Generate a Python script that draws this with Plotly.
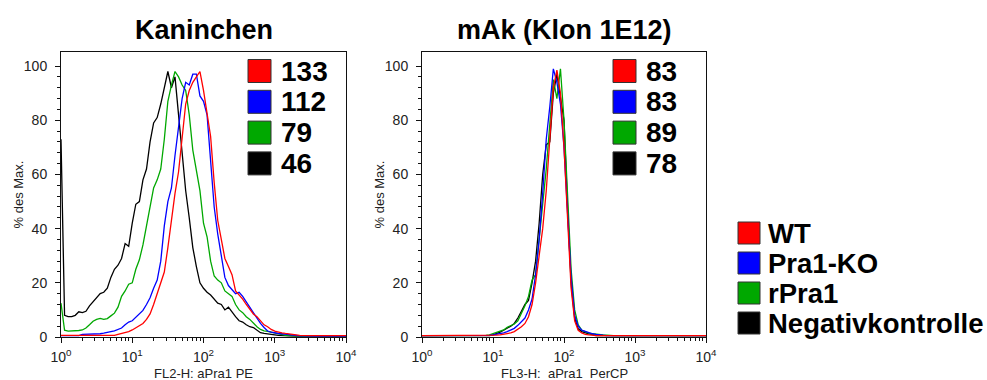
import numpy as np
import plotly.graph_objects as go

W, H = 987, 380

# channel positions: log10 intensity in 0.05-decade steps (10^0 ... 10^4)
log_pos = np.round(np.arange(0, 4.0001, 0.05), 2)
channels = 10 ** log_pos

groups = ["WT", "Pra1-KO", "rPra1", "Negativkontrolle"]
colors = ["#ff0000", "#0000ff", "#00a800", "#000000"]

# ---- Kaninchen (FL2-H: aPra1 PE), % of max per channel ----
rabbit_wt = (
    [0.6] * 16 + [1.0, 1.3, 1.6, 2.0]
    + [2.6, 3.3, 4.3, 5, 6.5, 8.5, 12, 16, 20, 24, 33, 44, 53, 61, 73, 86, 91, 94, 96, 98]
    + [91, 82, 74, 57, 43, 36, 29, 26, 23, 17, 15.5, 14, 12, 10, 8.5, 7.5, 6, 4.5, 3.8, 2.8]
    + [2.2, 1.8, 1.5, 1.3, 1.2, 1.0, 0.8, 0.6] + [0.5] * 12
    + [0.5]
)
rabbit_ko = (
    [0.5] * 6 + [1.0, 1.0, 1.0, 1.0, 1.1, 1.2, 1.4, 1.6, 2.0, 2.3, 2.8, 3.3, 4.5, 5.5]
    + [6, 7.2, 8.5, 9.8, 12, 14.5, 18, 21, 28, 41, 50, 55, 67, 78, 88, 94, 93, 97, 97, 89]
    + [87, 82, 65, 48, 38, 30, 22, 19, 17.5, 16, 16.5, 15, 13, 11, 9, 7, 5, 3.5, 2.2, 1.8]
    + [1.5, 1.3, 1.2, 1.0, 0.8, 0.6, 0.5, 0.4, 0.4] + [0.3] * 11
    + [0.3]
)
rabbit_rpra1 = (
    [12.5, 2.5, 2.2, 2.2, 2.3, 2.4, 2.6, 3.3, 4.5, 5.8, 6.5, 6.9, 6.5, 6.8, 7.8, 8.8, 11, 15, 17, 19.5]
    + [20, 25, 28.5, 34, 41, 48, 55, 58, 62, 73, 87, 93, 98, 96, 93, 91, 82, 69, 61, 54]
    + [42, 37, 28, 22.5, 21, 20, 17, 16, 15, 12, 10, 9, 7.5, 6.5, 5, 3.8, 2.8, 2.3, 2.1, 1.8]
    + [1.3, 1.0, 0.8, 0.6, 0.5, 0.4, 0.4] + [0.3] * 13
    + [0.3]
)
rabbit_neg = (
    [73, 8, 7.5, 7.5, 8, 9.3, 9, 9.5, 11.5, 13, 14.5, 16, 16.5, 18, 22, 25, 26.5, 29, 34.5, 33.5]
    + [42, 49, 50, 58, 62, 72, 79, 81, 86, 92, 98, 92, 96, 82, 68, 54, 44, 33, 26, 20]
    + [18, 16.5, 15.5, 14, 12.5, 12, 10, 11, 9, 7.5, 6, 5.5, 4.5, 3.8, 3.5, 2.5, 1.6, 1.3, 1.2, 1.0]
    + [0.8, 0.6, 0.5, 0.4, 0.4] + [0.3] * 15
    + [0.3]
)

# ---- mAk Klon 1E12 (FL3-H: aPra1 PerCP), % of max per channel ----
mab_wt = (
    [0.5] * 20
    + [0.6, 0.7, 0.8, 1.0, 1.2, 1.5, 2.0, 2.8, 3.8, 5, 7.5, 12, 20, 30, 40, 54, 75, 92, 98.5, 90]
    + [70, 42, 18, 6, 2.5, 1.5, 1.0, 0.8, 0.6] + [0.5] * 11
    + [0.5] * 20
    + [0.5]
)
mab_ko = (
    [0.5] * 19 + [0.6]
    + [0.8, 1.0, 1.2, 1.5, 2.0, 2.5, 3.2, 4.3, 5.5, 7, 10, 14, 23, 36, 53, 73, 85, 99, 94, 86]
    + [70, 46, 22, 8, 4, 2.5, 2, 1.5, 1.2, 1.0, 0.8, 0.7] + [0.5] * 8
    + [0.5] * 20
    + [0.5]
)
mab_rpra1 = (
    [0.5] * 18 + [0.6, 0.8]
    + [1.3, 1.6, 2.0, 2.6, 3.6, 4.2, 4.8, 6, 8.5, 11.5, 15, 21, 23, 35, 49, 62, 80, 95, 88, 99]
    + [80, 52, 25, 10, 4.5, 2.5, 1.8, 1.4, 1.2, 1.0, 0.9, 0.8, 0.7] + [0.5] * 7
    + [0.5] * 20
    + [0.5]
)
mab_neg = (
    [0.5] * 20
    + [0.8, 1.2, 1.8, 2.5, 3.2, 4, 5, 7, 9.5, 12, 13.5, 20, 28, 42, 60, 71, 72, 90, 97, 88]
    + [80, 48, 20, 7, 3, 2, 1.5, 1.2, 1.0] + [0.5] * 11
    + [0.5] * 20
    + [0.5]
)

# mean fluorescence intensity per group, shown next to each panel
rabbit_mfi = [133, 112, 79, 46]
mab_mfi = [83, 83, 89, 78]

panel_titles = ["Kaninchen", "mAk (Klon 1E12)"]
x_titles = ["FL2-H: aPra1 PE", "FL3-H:\u00a0 aPra1\u00a0 PerCP"]
y_title = "% des Max."

x_tickvals = [1, 10, 100, 1000, 10000]
x_ticktext = ["10<sup>0</sup>", "10<sup>1</sup>", "10<sup>2</sup>", "10<sup>3</sup>", "10<sup>4</sup>"]
x_minor = [m * 10 ** d for d in range(4) for m in range(2, 10)]
y_tickvals = [0, 20, 40, 60, 80, 100]
y_minor = [v for v in range(4, 101, 4) if v % 20 != 0]

BOLD = "Liberation Sans, Arial, sans-serif"
PLAIN = "Liberation Sans, Arial, sans-serif"


def px(x):
    return x / W


def py(y):
    return 1 - y / H


# plot areas in pixels: (left, right), (top, bottom)
panels = [((61, 346), (52, 337)), ((422, 706), (52, 337))]

fig = go.Figure()

series_sets = [
    [rabbit_wt, rabbit_ko, rabbit_rpra1, rabbit_neg],
    [mab_wt, mab_ko, mab_rpra1, mab_neg],
]

# draw order: control first, WT on top
for p, sets in enumerate(series_sets):
    xa = "x" if p == 0 else "x2"
    ya = "y" if p == 0 else "y2"
    for i in [3, 2, 1, 0]:
        fig.add_trace(go.Scatter(
            x=channels, y=sets[i], mode="lines", name=groups[i],
            line=dict(color=colors[i], width=1.3),
            xaxis=xa, yaxis=ya, showlegend=False,
        ))

axis_common = dict(
    showline=True, linecolor="#111", linewidth=1, mirror=True,
    ticks="outside", tickcolor="#111", ticklen=5, tickwidth=1,
    showgrid=False, zeroline=False, automargin=False,
    tickfont=dict(family=PLAIN, size=14, color="#222"),
)

layout = dict(
    template="none",
    width=W, height=H, margin=dict(l=0, r=0, t=0, b=0, pad=0, autoexpand=False),
    paper_bgcolor="white", plot_bgcolor="white", showlegend=False,
)

for p, ((xl, xr), (yt, yb)) in enumerate(panels):
    sfx = "" if p == 0 else "2"
    layout["xaxis" + sfx] = dict(
        axis_common, type="log", range=[0, 4],
        domain=[px(xl), px(xr)], anchor="y" + sfx,
        tickvals=x_tickvals, ticktext=x_ticktext, ticklabelstandoff=2,
        minor=dict(tickvals=x_minor, ticks="outside", ticklen=3, tickcolor="#111"),
    )
    layout["yaxis" + sfx] = dict(
        axis_common, range=[0, 105.2],
        domain=[py(yb), py(yt)], anchor="x" + sfx,
        tickvals=y_tickvals, ticklabelstandoff=5,
        minor=dict(tickvals=y_minor, ticks="outside", ticklen=3, tickcolor="#111"),
    )

fig.update_layout(**layout)

annotations = []
shapes = []

# panel titles and axis titles
for p, ((xl, xr), (yt, yb)) in enumerate(panels):
    cx = (xl + xr) / 2
    annotations.append(dict(
        x=px(cx), y=py(30), xref="paper", yref="paper", showarrow=False,
        text="<b>%s</b>" % panel_titles[p], xanchor="center", yanchor="middle",
        font=dict(family=BOLD, size=27, color="black"),
    ))
    annotations.append(dict(
        x=px(cx), y=py(373), xref="paper", yref="paper", showarrow=False,
        text=x_titles[p], xanchor="center", yanchor="middle",
        font=dict(family=PLAIN, size=13, color="#222"),
    ))
    annotations.append(dict(
        x=px(xl - 43), y=py((yt + yb) / 2), xref="paper", yref="paper", showarrow=False,
        text=y_title, textangle=-90, xanchor="center", yanchor="middle",
        font=dict(family=PLAIN, size=13, color="#222"),
    ))


def swatch(x0, y0, color, size=23):
    shapes.append(dict(
        type="rect", xref="paper", yref="paper",
        x0=px(x0), x1=px(x0 + size), y0=py(y0 + size), y1=py(y0),
        fillcolor=color, line=dict(color="#333", width=1),
    ))


# MFI keys inside each panel
for box_x, mfi in [(248, rabbit_mfi), (613, mab_mfi)]:
    for i, v in enumerate(mfi):
        top = 59.5 + 30.8 * i
        swatch(box_x, top, colors[i])
        annotations.append(dict(
            x=px(box_x + 31), y=py(top + 11.5), xref="paper", yref="paper",
            showarrow=False, text="<b>%d</b>" % v, xanchor="left", yanchor="middle",
            font=dict(family=BOLD, size=28, color="black"),
        ))

# group legend
for i, g in enumerate(groups):
    top = 222 + 30 * i
    swatch(738, top, colors[i], size=22)
    annotations.append(dict(
        x=px(766), y=py(top + 11), xref="paper", yref="paper",
        showarrow=False, text="<b>%s</b>" % g, xanchor="left", yanchor="middle",
        font=dict(family=BOLD, size=27.5, color="black"),
    ))

fig.update_layout(annotations=annotations, shapes=shapes)
fig.write_html("out.html")
